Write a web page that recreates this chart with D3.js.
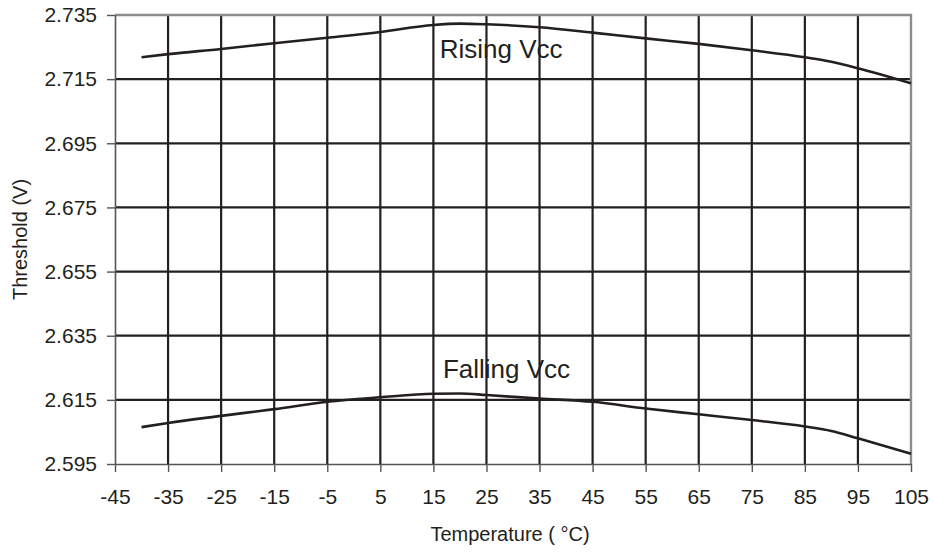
<!DOCTYPE html>
<html>
<head>
<meta charset="utf-8">
<script src="https://cdn.jsdelivr.net/npm/d3@7"></script>
<style>
  html, body { margin: 0; padding: 0; background: #fff; }
  svg { display: block; font-family: "Liberation Sans", Arial, Helvetica, sans-serif; }
</style>
</head>
<body>
<svg id="chart" width="933" height="552"></svg>
<script>
const temps   = [-40, -35, -25, -15, -5, 5, 15, 20, 25, 35, 45, 55, 65, 75, 85, 90, 95, 105];
const rising  = [2.7218, 2.7228, 2.7244, 2.7262, 2.7279, 2.7297, 2.7319, 2.7323, 2.7321, 2.7312, 2.7295, 2.7277, 2.7260, 2.7240, 2.7218, 2.7204, 2.7184, 2.7137];
const falling = [2.6065, 2.6078, 2.6100, 2.6121, 2.6144, 2.6158, 2.6169, 2.6170, 2.6165, 2.6154, 2.6144, 2.6123, 2.6105, 2.6087, 2.6067, 2.6053, 2.6030, 2.5982];
const xTicks  = [-45, -35, -25, -15, -5, 5, 15, 25, 35, 45, 55, 65, 75, 85, 95, 105];
const yTicks  = [2.595, 2.615, 2.635, 2.655, 2.675, 2.695, 2.715, 2.735];
const seriesLabels = [
  {name: "Rising Vcc", t: 16.2, v: 2.7216},
  {name: "Falling Vcc", t: 16.8, v: 2.6218}
];
const xTitle = "Temperature ( °C)";
const yTitle = "Threshold (V)";

const svg = d3.select("#chart");
const m = {left: 115, right: 22, top: 15, bottom: 88};
const W = 933, H = 552;
const x = d3.scaleLinear().domain([-45, 105]).range([m.left, W - m.right]);
const y = d3.scaleLinear().domain([2.595, 2.735]).range([H - m.bottom, m.top]);

const ink = "#231f20";
const gray = "#8c8c8e";

// gridlines
const g = svg.append("g");
g.selectAll("line.vg").data(xTicks.slice(1, -1)).join("line")
  .attr("x1", d => x(d)).attr("x2", d => x(d))
  .attr("y1", y(2.735)).attr("y2", y(2.595))
  .attr("stroke", ink).attr("stroke-width", 2.2);
g.selectAll("line.hg").data(yTicks.slice(1, -1)).join("line")
  .attr("y1", d => y(d)).attr("y2", d => y(d))
  .attr("x1", x(-45)).attr("x2", x(105))
  .attr("stroke", ink).attr("stroke-width", 2.2);

// frame top & right (gray)
svg.append("path")
  .attr("d", `M${x(-45)},${y(2.735)}H${x(105)}V${y(2.595)}`)
  .attr("fill", "none").attr("stroke", gray).attr("stroke-width", 2.4);

// axes
const xAxis = svg.append("g").attr("transform", `translate(0,${y(2.595)})`)
  .call(d3.axisBottom(x).tickValues(xTicks).tickSize(8).tickSizeOuter(0).tickPadding(17).tickFormat(d => String(d)));
const yAxis = svg.append("g").attr("transform", `translate(${x(-45)},0)`)
  .call(d3.axisLeft(y).tickValues(yTicks).tickSize(8).tickSizeOuter(0).tickPadding(10).tickFormat(d3.format(".3f")));
[xAxis, yAxis].forEach(a => {
  a.select(".domain").attr("stroke", "#555").attr("stroke-width", 1.6);
  a.selectAll(".tick line").attr("stroke", "#555").attr("stroke-width", 1.4);
  a.selectAll(".tick text").attr("fill", ink).style("font-size", "21px").style("font-family", "Liberation Sans, Arial, sans-serif");
});

// curves
const line = d3.line().x(d => x(d[0])).y(d => y(d[1])).curve(d3.curveMonotoneX);
[rising, falling].forEach(vals => {
  svg.append("path")
    .datum(temps.map((t, i) => [t, vals[i]]))
    .attr("d", line)
    .attr("fill", "none").attr("stroke", ink).attr("stroke-width", 2.6);
});

// series labels
svg.selectAll("text.sl").data(seriesLabels).join("text")
  .attr("x", d => x(d.t)).attr("y", d => y(d.v))
  .attr("fill", ink).style("font-size", "26px")
  .text(d => d.name);

// axis titles
svg.append("text").attr("x", (x(-45) + x(105)) / 2 - 3).attr("y", 541)
  .attr("text-anchor", "middle").attr("fill", ink).style("font-size", "20px").text(xTitle);
svg.append("text").attr("transform", `translate(27,${(y(2.735) + y(2.595)) / 2})rotate(-90)`)
  .attr("text-anchor", "middle").attr("fill", ink).style("font-size", "20px").text(yTitle);
</script>
</body>
</html>
